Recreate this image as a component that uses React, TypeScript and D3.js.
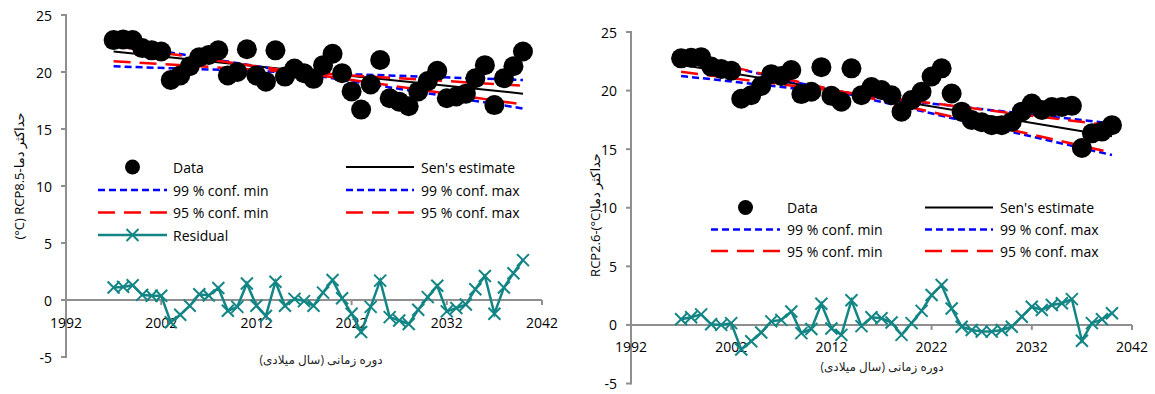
import React from 'react';
import * as d3 from 'd3';

// years of the series
const years = [
  1997, 1998, 1999, 2000, 2001, 2002, 2003, 2004, 2005, 2006, 2007,
  2008, 2009, 2010, 2011, 2012, 2013, 2014, 2015, 2016, 2017, 2018,
  2019, 2020, 2021, 2022, 2023, 2024, 2025, 2026, 2027, 2028, 2029,
  2030, 2031, 2032, 2033, 2034, 2035, 2036, 2037, 2038, 2039, 2040,
];
const trendYears = [1997, 2040];
const xTickLabels = [1992, 2002, 2012, 2022, 2032, 2042];
const yTickLabels = [-5, 0, 5, 10, 15, 20, 25];

// RCP8.5 (left)
const rcp85Data = [
  22.8, 22.85, 22.8, 22.1, 21.9, 21.8, 19.3, 19.7, 20.5, 21.3, 21.5,
  21.9, 19.7, 20.0, 22.0, 19.7, 19.15, 21.9, 19.6, 20.3, 19.9, 19.4,
  20.6, 21.6, 19.9, 18.3, 16.7, 18.9, 21.05, 17.7, 17.4, 17.0, 18.3,
  19.2, 20.1, 17.7, 17.85, 18.1, 19.45, 20.6, 17.1, 19.45, 20.5, 21.8,
];
const rcp85Residual = [
  1.1, 1.15, 1.3, 0.45, 0.38, 0.38, -1.95, -1.3, -0.5, 0.5, 0.4,
  1.05, -0.95, -0.6, 1.45, -0.5, -1.4, 1.6, -0.5, 0.1, -0.1, -0.5,
  0.65, 1.75, 0.15, -1.2, -2.8, -0.6, 1.7, -1.5, -1.8, -2.1, -0.85,
  0.25, 1.25, -1.0, -0.7, -0.4, 0.95, 2.1, -1.2, 1.1, 2.35, 3.5,
];
const rcp85Sen = [21.8, 18.1];
const rcp85Min99 = [22.5, 16.8];
const rcp85Min95 = [22.3, 17.15];
const rcp85Max99 = [20.5, 19.3];
const rcp85Max95 = [20.95, 18.8];

// RCP2.6 (right)
const rcp26Data = [
  22.75, 22.8, 22.85, 22.05, 21.85, 21.7, 19.3, 19.6, 20.4, 21.4, 21.25,
  21.75, 19.7, 19.9, 22.0, 19.55, 19.05, 21.9, 19.6, 20.3, 20.05, 19.6,
  18.2, 19.2, 19.9, 21.2, 21.9, 19.75, 18.2, 17.5, 17.3, 17.05, 17.05,
  17.35, 18.2, 18.9, 18.35, 18.6, 18.6, 18.7, 15.1, 16.35, 16.5, 17.05,
];
const rcp26Residual = [
  0.48, 0.65, 0.9, 0.05, 0.0, 0.15, -2.1, -1.4, -0.65, 0.3, 0.43,
  1.15, -0.7, -0.35, 1.8, -0.3, -0.85, 2.1, -0.1, 0.65, 0.57, 0.2,
  -0.85, 0.15, 1.2, 2.55, 3.4, 1.4, -0.15, -0.43, -0.57, -0.57, -0.43,
  -0.15, 0.7, 1.55, 1.28, 1.7, 1.85, 2.2, -1.35, 0.15, 0.48, 1.0,
];
const rcp26Sen = [22.2, 16.1];
const rcp26Min99 = [22.98, 14.5];
const rcp26Min95 = [23.0, 14.7];
const rcp26Max99 = [21.25, 17.2];
const rcp26Max95 = [21.6, 17.0];

const FONT = "'Open Sans', 'Noto Sans', 'DejaVu Sans', sans-serif";
const AXIS = '#8f8f8f';
const TEAL = '#138585';
const BLUE = '#0000ff';
const RED = '#ff0000';

const styles: Record<string, any> = {
  sen: { stroke: '#000', strokeWidth: 2 },
  c99: { stroke: BLUE, strokeWidth: 2.5, strokeDasharray: '7,4' },
  c95: { stroke: RED, strokeWidth: 2.5, strokeDasharray: '17,9' },
};

const Cross = ({ cx, cy, s = 6 }: { cx: number; cy: number; s?: number }) => (
  <g stroke={TEAL} strokeWidth={2}>
    <line x1={cx - s} y1={cy - s} x2={cx + s} y2={cy + s} />
    <line x1={cx - s} y1={cy + s} x2={cx + s} y2={cy - s} />
  </g>
);

function LegendItem({ kind, x1, x2, tx, y, label }: any) {
  const mid = (x1 + x2) / 2;
  let sym: any = null;
  if (kind === 'data') sym = <circle cx={mid} cy={y} r={7.5} fill="#000" />;
  else if (kind === 'res')
    sym = (
      <g>
        <line x1={x1} x2={x2} y1={y} y2={y} stroke={TEAL} strokeWidth={2.5} />
        <Cross cx={mid} cy={y} />
      </g>
    );
  else sym = <line x1={x1} x2={x2} y1={y} y2={y} {...styles[kind]} />;
  return (
    <g>
      {sym}
      <text x={tx} y={y} dominantBaseline="central" fontSize={14} fontFamily={FONT} fill="#000">
        {label}
      </text>
    </g>
  );
}

function Panel(p: any) {
  const x = d3.scaleLinear().domain([1992, 2042]).range([p.x0, p.x1]);
  const y = d3.scaleLinear().domain([-5, 25]).range([p.yB, p.yT]);
  const line = d3
    .line<[number, number]>()
    .x((d) => x(d[0]))
    .y((d) => y(d[1]));
  const trend = (arr: number[]) => line(trendYears.map((t, i) => [t, arr[i]]) as [number, number][]) || '';
  const y0 = y(0);
  return (
    <g>
      {/* y axis */}
      <line x1={p.x0} x2={p.x0} y1={y(25) - 1} y2={y(-5) + 1} stroke={AXIS} strokeWidth={2} />
      {yTickLabels.map((v) => (
        <g key={v}>
          <line x1={p.x0 - 5} x2={p.x0} y1={y(v)} y2={y(v)} stroke={AXIS} strokeWidth={2} />
          <text x={p.x0 - 14} y={y(v)} textAnchor="end" dominantBaseline="central" fontSize={14} fontFamily={FONT}>
            {v}
          </text>
        </g>
      ))}
      {/* x axis at zero */}
      <line x1={p.x0} x2={p.x1} y1={y0} y2={y0} stroke={AXIS} strokeWidth={2} />
      {xTickLabels.map((t) => (
        <g key={t}>
          <line x1={x(t)} x2={x(t)} y1={y0} y2={y0 + 5} stroke={AXIS} strokeWidth={2} />
          <text x={x(t)} y={y0 + 22} textAnchor="middle" dominantBaseline="central" fontSize={14} fontFamily={FONT}>
            {t}
          </text>
        </g>
      ))}
      {/* axis titles */}
      <text x={p.xLabel[0]} y={p.xLabel[1]} textAnchor="middle" dominantBaseline="central" fontSize={12} fontFamily={FONT} fill="#222">
        دوره زمانی (سال میلادی)
      </text>
      <text
        transform={`translate(${p.yLabel[0]},${p.yLabel[1]}) rotate(-90)`}
        textAnchor="middle"
        dominantBaseline="central"
        fontSize={13}
        fontFamily={FONT}
      >
        {p.yTitle}
      </text>
      {/* trend lines */}
      <path d={trend(p.sen)} fill="none" {...styles.sen} />
      <path d={trend(p.min99)} fill="none" {...styles.c99} />
      <path d={trend(p.max99)} fill="none" {...styles.c99} />
      <path d={trend(p.min95)} fill="none" {...styles.c95} />
      <path d={trend(p.max95)} fill="none" {...styles.c95} />
      {/* data */}
      {p.data.map((v: number, i: number) => (
        <circle key={i} cx={x(years[i])} cy={y(v)} r={10} fill="#000" />
      ))}
      {/* residual */}
      <path
        d={line(years.map((t, i) => [t, p.residual[i]]) as [number, number][]) || ''}
        fill="none"
        stroke={TEAL}
        strokeWidth={2.5}
      />
      {p.residual.map((v: number, i: number) => (
        <Cross key={i} cx={x(years[i])} cy={y(v)} />
      ))}
      {/* legend */}
      {p.legend.map((l: any, i: number) => (
        <LegendItem key={i} {...l} />
      ))}
    </g>
  );
}

export default function App() {
  const leftCols = [
    { x1: 98, x2: 167, tx: 173 },
    { x1: 346, x2: 414, tx: 421 },
  ];
  const leftRows = [167, 190, 212.5, 235];
  const rightCols = [
    { x1: 711, x2: 780, tx: 787 },
    { x1: 925, x2: 993, tx: 1000 },
  ];
  const rightRows = [207.5, 229.5, 251];
  const legendOf = (cols: any[], rows: number[], withRes: boolean) => {
    const items = [
      { kind: 'data', label: 'Data', ...cols[0], y: rows[0] },
      { kind: 'sen', label: "Sen's estimate", ...cols[1], y: rows[0] },
      { kind: 'c99', label: '99 % conf. min', ...cols[0], y: rows[1] },
      { kind: 'c99', label: '99 % conf. max', ...cols[1], y: rows[1] },
      { kind: 'c95', label: '95 % conf. min', ...cols[0], y: rows[2] },
      { kind: 'c95', label: '95 % conf. max', ...cols[1], y: rows[2] },
    ];
    if (withRes) items.push({ kind: 'res', label: 'Residual', ...cols[0], y: rows[3] });
    return items;
  };
  return (
    <svg
      width={1155}
      height={394}
      style={{ position: 'absolute', left: 0, top: 0, background: '#fff' }}
    >
      <Panel
        x0={66}
        x1={542}
        yT={15}
        yB={357}
        data={rcp85Data}
        residual={rcp85Residual}
        sen={rcp85Sen}
        min99={rcp85Min99}
        min95={rcp85Min95}
        max99={rcp85Max99}
        max95={rcp85Max95}
        xLabel={[321, 359]}
        yLabel={[19, 176]}
        yTitle="(°C)  RCP8.5-حداکثر دما"
        legend={legendOf(leftCols, leftRows, true)}
      />
      <Panel
        x0={631}
        x1={1132}
        yT={32}
        yB={383.5}
        data={rcp26Data}
        residual={rcp26Residual}
        sen={rcp26Sen}
        min99={rcp26Min99}
        min95={rcp26Min95}
        max99={rcp26Max99}
        max95={rcp26Max95}
        xLabel={[882, 366]}
        yLabel={[595, 215]}
        yTitle="RCP2.6-(°C)حداکثر دما"
        legend={legendOf(rightCols, rightRows, false)}
      />
    </svg>
  );
}
